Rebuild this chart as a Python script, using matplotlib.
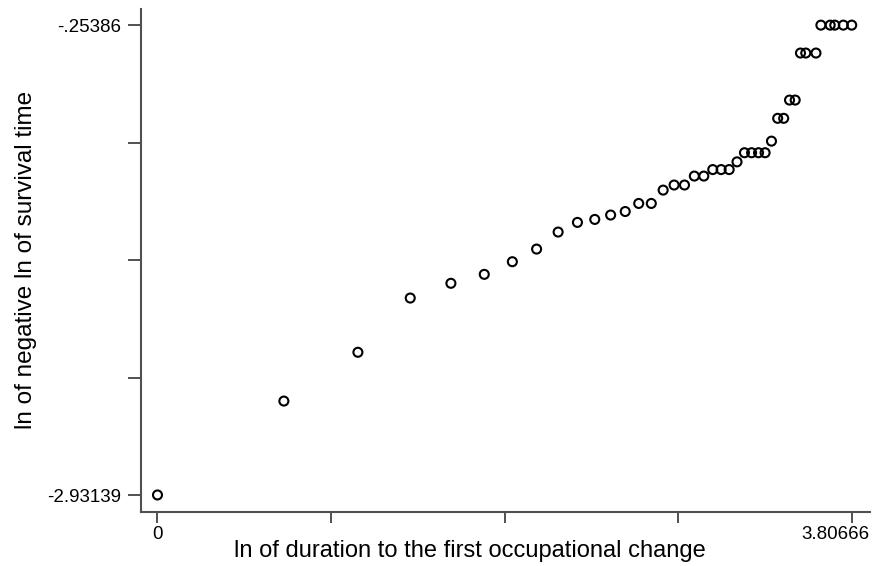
import matplotlib.pyplot as plt
from matplotlib.transforms import ScaledTranslation

# ln of duration to first occupational change (x) and ln(-ln S(t)) (y)
x_vals = [0.0, 0.693, 1.099, 1.386, 1.609, 1.792, 1.946, 2.079, 2.197, 2.303,
          2.398, 2.485, 2.565, 2.639, 2.708, 2.773, 2.833, 2.890, 2.944, 2.996,
          3.045, 3.091, 3.135, 3.178, 3.219, 3.258, 3.296, 3.332, 3.367, 3.401,
          3.434, 3.466, 3.497, 3.526, 3.555, 3.611, 3.638, 3.689, 3.714, 3.761,
          3.807]
y_vals = [-2.931, -2.396, -2.118, -1.809, -1.725, -1.674, -1.602, -1.530, -1.433, -1.378,
          -1.361, -1.336, -1.316, -1.270, -1.270, -1.194, -1.165, -1.165, -1.114, -1.114,
          -1.077, -1.077, -1.077, -1.033, -0.981, -0.981, -0.981, -0.981, -0.915, -0.785,
          -0.785, -0.681, -0.681, -0.413, -0.413, -0.413, -0.254, -0.254, -0.254, -0.254,
          -0.254]

x_min, x_max = 0.0, 3.80666
y_min, y_max = -2.93139, -0.25386
x_ticks = [x_min + i * (x_max - x_min) / 4 for i in range(5)]
y_ticks = [y_min + i * (y_max - y_min) / 4 for i in range(5)]
x_ticklabels = ['0', '', '', '', '3.80666']
y_ticklabels = ['-2.93139', '', '', '', '-.25386']

plt.rcParams['font.family'] = ['Liberation Sans', 'DejaVu Sans']

fig = plt.figure(figsize=(8.73, 5.66), dpi=100, facecolor='w')
ax = fig.add_axes([0.1615, 0.0959, 0.835, 0.888])

ax.scatter(x_vals, y_vals, s=42, facecolors='none', edgecolors='black', linewidths=1.5)

ax.set_xlim(-0.0905, 3.907)
ax.set_ylim(-3.0265, -0.1627)

ax.set_xticks(x_ticks)
ax.set_xticklabels(x_ticklabels, fontsize=13.5)
ax.set_yticks(y_ticks)
ax.set_yticklabels(y_ticklabels, fontsize=13.5)
ax.tick_params(axis='x', direction='out', length=8, width=1.2, color='#333333', pad=2)
ax.tick_params(axis='y', direction='out', length=9.5, width=1.2, color='#333333', pad=4.5)

# the right-most x label sits pushed in to end at the axis line
lab = ax.get_xticklabels()[-1]
lab.set_horizontalalignment('right')
lab.set_transform(lab.get_transform() + ScaledTranslation(0.18, 0, fig.dpi_scale_trans))

ax.set_xlabel('ln of duration to the first occupational change', fontsize=17, va='top')
ax.xaxis.set_label_coords(0.4506, -0.0563)
ax.set_ylabel('ln of negative ln of survival time', fontsize=17.5)
ax.yaxis.set_label_coords(-0.1427, 0.5007)

for spine in ('top', 'right'):
    ax.spines[spine].set_visible(False)
for spine in ('bottom', 'left'):
    ax.spines[spine].set_color('#505050')
    ax.spines[spine].set_linewidth(1.5)

fig.savefig('out.png', dpi=100)
